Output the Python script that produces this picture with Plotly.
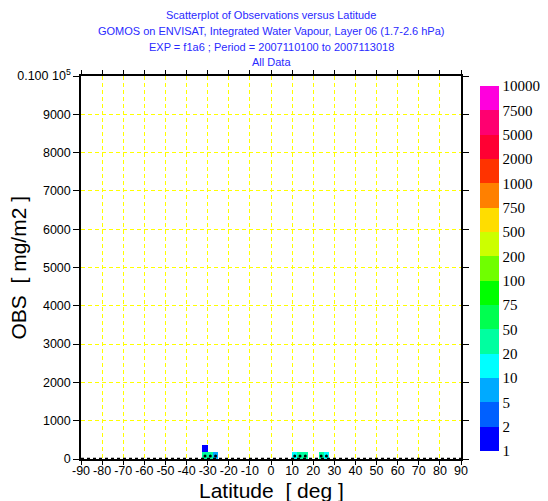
import numpy as np
import plotly.graph_objects as go

# ---- data ----
levels = [1, 2, 5, 10, 20, 50, 75, 100, 200, 500, 750, 1000, 2000, 5000, 7500, 10000]
level_colors = ["#0000FF", "#0060FF", "#00AAFF", "#00FFFF", "#00FFA0", "#00FF50",
                "#00FF00", "#70FF00", "#CCFF00", "#FFDD00", "#FF8000", "#FF3300",
                "#FF0033", "#FF0070", "#FF00DD"]

cell_lat = [-31.25, -28.75, -26.25, -31.25, 11.25, 13.75, 16.25, 23.75, 26.25]
cell_obs = [90, 90, 90, 270, 90, 90, 90, 90, 90]
cell_count = [30, 22, 7, 1, 14, 28, 25, 30, 12]

dot_lat = [-31.25, -28.75, -26.25, 11.25, 13.75, 16.25, 23.75, 26.25]
dot_obs = [80, 80, 80, 80, 80, 80, 80, 80]

x_ticks = list(range(-90, 91, 10))
y_ticks = list(range(0, 10001, 1000))
y_ticktext = [str(v) for v in y_ticks[:-1]] + ["0.100 10<sup>5</sup>"]

title_lines = ["Scatterplot of Observations versus Latitude",
               "GOMOS on ENVISAT, Integrated Water Vapour, Layer 06 (1.7-2.6 hPa)",
               "EXP = f1a6 ; Period = 2007110100 to 2007113018",
               "All Data"]
x_title = "Latitude\u00a0\u00a0[ deg ]"
y_title = "OBS\u00a0\u00a0[ mg/m2 ]"

# ---- grid binning ----
dlat, dobs = 2.5, 180.0
nx = int(180 / dlat)
ny = int(np.ceil(10000 / dobs))
z = np.full((ny, nx), np.nan)
for la, ob, c in zip(cell_lat, cell_obs, cell_count):
    ix = int((la + 90) // dlat)
    iy = int(ob // dobs)
    k = int(np.searchsorted(levels, c, side="right") - 1)
    k = min(max(k, 0), len(level_colors) - 1)
    z[iy, ix] = k + 0.5

nlev = len(level_colors)
colorscale = []
for i, col in enumerate(level_colors):
    colorscale.append([i / nlev, col])
    colorscale.append([(i + 1) / nlev, col])

# page body has an 8px margin -> work in figure coordinates shifted by 8px
OFF = 8
W, H = 548 - OFF, 501 - OFF
L, R, T, B = 81 - OFF, 464 - OFF, 76 - OFF, 459 - OFF
pw, ph = R - L, B - T
cb_x, cb_top, cb_bot = 483 - OFF, 86 - OFF, 451 - OFF

fig = go.Figure()
fig.add_trace(go.Heatmap(
    z=z, x0=-90 + dlat / 2, dx=dlat, y0=dobs / 2, dy=dobs,
    zmin=0, zmax=nlev, colorscale=colorscale, hoverongaps=False,
    colorbar=dict(
        tickvals=list(range(nlev + 1)), ticktext=[str(v) for v in levels],
        x=(cb_x - L) / pw, xanchor="left", xpad=0, thickness=19, thicknessmode="pixels",
        len=(cb_bot - cb_top) / ph, lenmode="fraction", y=(B - (cb_top + cb_bot) / 2) / ph,
        yanchor="middle", ypad=0,
        outlinewidth=0, ticks="", ticklen=0,
        tickfont=dict(family="Liberation Serif", size=15, color="black"),
    ),
))
fig.add_trace(go.Scatter(x=dot_lat, y=dot_obs, mode="markers",
                         marker=dict(color="black", size=3), showlegend=False))

fig.add_shape(type="line", x0=-90, x1=90, y0=0, y1=0, xref="x", yref="y",
              line=dict(color="black", width=2.5, dash="dot"))

axis_common = dict(showline=True, linecolor="black", linewidth=1.5, mirror="ticks",
                   ticks="outside", tickcolor="black", tickwidth=1,
                   showgrid=True, gridcolor="#FFFF00", griddash="4px,3px", gridwidth=1,
                   zeroline=False, automargin=False,
                   tickfont=dict(family="Liberation Sans", size=12.5, color="black"))

fig.update_xaxes(range=[-90, 90], tickvals=x_ticks, ticktext=[str(v) for v in x_ticks],
                 tickangle=0, ticklen=4, ticklabelstandoff=-5, **axis_common)
fig.update_yaxes(range=[0, 10000], tickvals=y_ticks, ticktext=y_ticktext, ticklen=6,
                 **axis_common)

line_y = [15 - OFF, 31 - OFF, 47 - OFF, 62 - OFF]
for txt, yy in zip(title_lines, line_y):
    fig.add_annotation(text=txt, xref="paper", yref="paper",
                       x=0.5, y=(B - yy) / ph, xanchor="center", yanchor="middle",
                       showarrow=False,
                       font=dict(family="Liberation Sans", size=11, color="#2a2aff"))

fig.add_annotation(text=x_title, xref="paper", yref="paper",
                   x=(272.5 - OFF - L) / pw, y=(B - (490 - OFF)) / ph,
                   xanchor="center", yanchor="middle", showarrow=False,
                   font=dict(family="Liberation Sans", size=21, color="black"))
fig.add_annotation(text=y_title, xref="paper", yref="paper", textangle=-90,
                   x=(18 - OFF - L) / pw, y=(B - (267 - OFF)) / ph,
                   xanchor="center", yanchor="middle", showarrow=False,
                   font=dict(family="Liberation Sans", size=21, color="black"))

fig.update_layout(
    width=W, height=H,
    margin=dict(l=L, r=W - R, t=T, b=H - B),
    paper_bgcolor="white", plot_bgcolor="white",
    showlegend=False,
)

fig.write_html("out.html")
